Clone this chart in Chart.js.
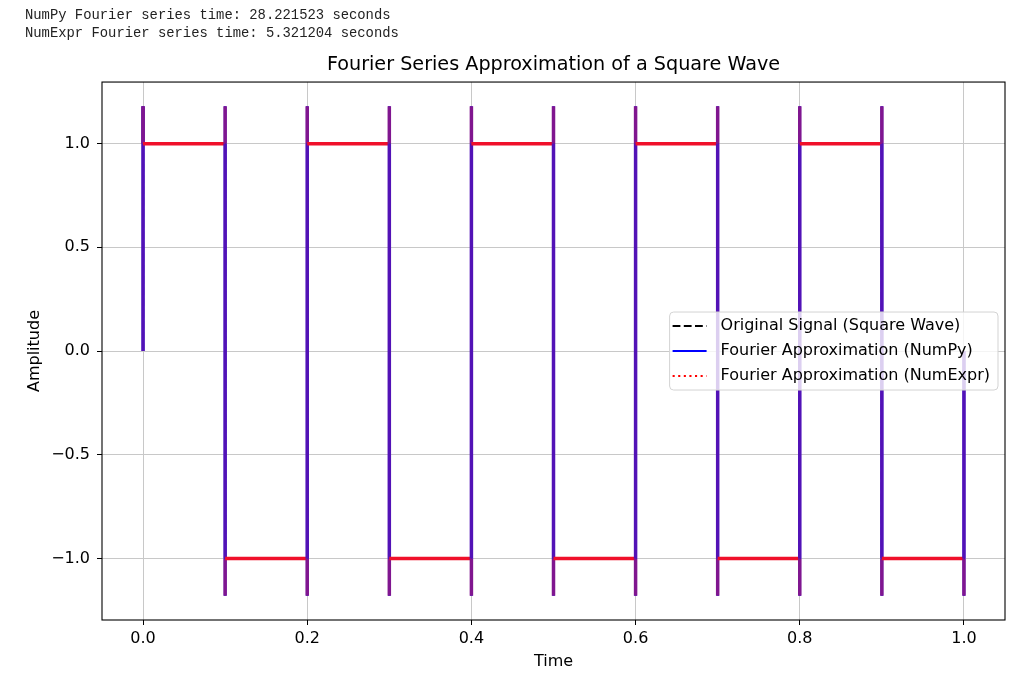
<!DOCTYPE html>
<html><head><meta charset="utf-8">
<script src="https://cdn.jsdelivr.net/npm/chart.js@4/dist/chart.umd.min.js"></script>
<style>
html,body{margin:0;padding:0;background:#fff;}
#wrap{position:relative;width:1024px;height:692px;overflow:hidden;background:#fff;}
#log{position:absolute;left:25px;top:6px;font-family:'Liberation Mono',monospace;font-size:13.85px;line-height:18.4px;color:#222;white-space:pre;z-index:2;}
canvas{position:absolute;left:0;top:0;}
</style></head><body>
<div id="wrap">
<canvas id="c" width="1024" height="692"></canvas>
<div id="log">NumPy Fourier series time: 28.221523 seconds
NumExpr Fourier series time: 5.321204 seconds</div>
</div>
<script>
// ---- data ----
const chartTitle = 'Fourier Series Approximation of a Square Wave';
const xAxisTitle = 'Time';
const yAxisTitle = 'Amplitude';
const seriesLabels = ['Original Signal (Square Wave)', 'Fourier Approximation (NumPy)', 'Fourier Approximation (NumExpr)'];

const xTicks = [0.0, 0.2, 0.4, 0.6, 0.8, 1.0];
const xTickLabels = ['0.0', '0.2', '0.4', '0.6', '0.8', '1.0'];
const yTicks = [-1.0, -0.5, 0.0, 0.5, 1.0];
const yTickLabels = ['\u22121.0', '\u22120.5', '0.0', '0.5', '1.0'];

// original square wave (vertices)
const squareTime = [0.0, 0.0, 0.1, 0.1, 0.2, 0.2, 0.3, 0.3, 0.4, 0.4, 0.5, 0.5, 0.6, 0.6, 0.7, 0.7, 0.8, 0.8, 0.9, 0.9, 1.0];
const squareAmp  = [0, 1, 1, -1, -1, 1, 1, -1, -1, 1, 1, -1, -1, 1, 1, -1, -1, 1, 1, -1, -1];

// Fourier approximation vertices (flat levels with Gibbs overshoot at each jump)
const fourierTime = [
  0.0, 0.0, 0.0,
  0.1, 0.1, 0.1, 0.1, 0.1, 0.1,
  0.2, 0.2, 0.2, 0.2, 0.2, 0.2,
  0.3, 0.3, 0.3, 0.3, 0.3, 0.3,
  0.4, 0.4, 0.4, 0.4, 0.4, 0.4,
  0.5, 0.5, 0.5, 0.5, 0.5, 0.5,
  0.6, 0.6, 0.6, 0.6, 0.6, 0.6,
  0.7, 0.7, 0.7, 0.7, 0.7, 0.7,
  0.8, 0.8, 0.8, 0.8, 0.8, 0.8,
  0.9, 0.9, 0.9, 0.9, 0.9, 0.9,
  1.0, 1.0, 1.0, 1.0
];
const fourierNumPy = [
  0.0, 1.18, 1.0,
  1.0, 1.18, 1.0, -1.0, -1.18, -1.0,
  -1.0, -1.18, -1.0, 1.0, 1.18, 1.0,
  1.0, 1.18, 1.0, -1.0, -1.18, -1.0,
  -1.0, -1.18, -1.0, 1.0, 1.18, 1.0,
  1.0, 1.18, 1.0, -1.0, -1.18, -1.0,
  -1.0, -1.18, -1.0, 1.0, 1.18, 1.0,
  1.0, 1.18, 1.0, -1.0, -1.18, -1.0,
  -1.0, -1.18, -1.0, 1.0, 1.18, 1.0,
  1.0, 1.18, 1.0, -1.0, -1.18, -1.0,
  -1.0, -1.18, -1.0, 0.0
];
const fourierNumExpr = [
  0.0, 1.18, 1.0,
  1.0, 1.18, 1.0, -1.0, -1.18, -1.0,
  -1.0, -1.18, -1.0, 1.0, 1.18, 1.0,
  1.0, 1.18, 1.0, -1.0, -1.18, -1.0,
  -1.0, -1.18, -1.0, 1.0, 1.18, 1.0,
  1.0, 1.18, 1.0, -1.0, -1.18, -1.0,
  -1.0, -1.18, -1.0, 1.0, 1.18, 1.0,
  1.0, 1.18, 1.0, -1.0, -1.18, -1.0,
  -1.0, -1.18, -1.0, 1.0, 1.18, 1.0,
  1.0, 1.18, 1.0, -1.0, -1.18, -1.0,
  -1.0, -1.18, -1.0, 0.0
];

// ---- build ----
const pts = (xs, ys) => xs.map((x, i) => ({x: x, y: ys[i]}));
const FONT = "'DejaVu Sans', 'Liberation Sans', sans-serif";

const legendStyles = [
  {color: '#000000', width: 2.1, dash: [7.8, 3.4]},
  {color: '#0000ff', width: 2.1, dash: []},
  {color: '#ff0000', width: 2.1, dash: [2.1, 3.5]}
];

const frameAndLegend = {
  id: 'frameAndLegend',
  afterDatasetsDraw(chart) {
    const {ctx, chartArea: a} = chart;
    ctx.save();
    ctx.strokeStyle = '#000';
    ctx.lineWidth = 1.1;
    ctx.strokeRect(a.left, a.top, a.right - a.left, a.bottom - a.top);
    ctx.restore();
  },
  afterDraw(chart) {
    const {ctx, chartArea: a} = chart;
    ctx.save();
    ctx.font = '16px ' + FONT;
    let maxW = 0;
    seriesLabels.forEach(t => { maxW = Math.max(maxW, ctx.measureText(t).width); });
    const w = 51 + maxW + 8;
    const h = 78;
    const x = a.right - 7 - w;
    const y = (a.top + a.bottom) / 2 - h / 2;
    ctx.beginPath();
    if (ctx.roundRect) ctx.roundRect(x, y, w, h, 4); else ctx.rect(x, y, w, h);
    ctx.fillStyle = 'rgba(255,255,255,0.8)';
    ctx.fill();
    ctx.strokeStyle = '#d3d3d3';
    ctx.lineWidth = 1;
    ctx.stroke();
    seriesLabels.forEach((t, i) => {
      const cy = y + 14 + i * 25;
      const s = legendStyles[i];
      ctx.beginPath();
      ctx.setLineDash(s.dash);
      ctx.strokeStyle = s.color;
      ctx.lineWidth = s.width;
      ctx.moveTo(x + 3, cy);
      ctx.lineTo(x + 37, cy);
      ctx.stroke();
      ctx.setLineDash([]);
      ctx.fillStyle = '#000';
      ctx.textBaseline = 'middle';
      ctx.textAlign = 'left';
      ctx.fillText(t, x + 51, cy);
    });
    ctx.restore();
  }
};

const vertical = c => c.p0.parsed.x === c.p1.parsed.x;
const overshoot = c => Math.abs(c.p0.parsed.y) >= 0.999 && Math.abs(c.p1.parsed.y) >= 0.999 && c.p0.parsed.y * c.p1.parsed.y > 0;

new Chart(document.getElementById('c'), {
  type: 'scatter',
  data: {
    datasets: [
      {
        label: seriesLabels[0], data: pts(squareTime, squareAmp), showLine: true, order: 3,
        borderColor: '#000', borderWidth: 2.1, borderDash: [7.8, 3.4], pointRadius: 0, pointHoverRadius: 0
      },
      {
        label: seriesLabels[1], data: pts(fourierTime, fourierNumPy), showLine: true, order: 2,
        borderColor: '#0000ff', borderWidth: 2.6, pointRadius: 0, pointHoverRadius: 0
      },
      {
        label: seriesLabels[2], data: pts(fourierTime, fourierNumExpr), showLine: true, order: 1,
        borderColor: '#f0102a', borderWidth: 3.5, pointRadius: 0, pointHoverRadius: 0,
        segment: {
          borderColor: c => vertical(c) ? (overshoot(c) ? '#80168f' : '#5212b6') : '#f0102a'
        }
      }
    ]
  },
  options: {
    responsive: false,
    animation: false,
    devicePixelRatio: 1,
    events: [],
    layout: {padding: {left: 0, right: 19, top: 0, bottom: 0}},
    plugins: {
      legend: {display: false},
      tooltip: {enabled: false},
      title: {
        display: true, text: chartTitle, fullSize: false, color: '#000',
        font: {family: FONT, size: 19.2, weight: 'normal'},
        padding: {top: 53.5, bottom: 5.5}
      }
    },
    scales: {
      x: {
        type: 'linear', min: -0.05, max: 1.05,
        afterFit: s => { s.height = 72; },
        afterBuildTicks: s => { s.ticks = xTicks.map(v => ({value: v})); },
        ticks: {
          color: '#000', font: {family: FONT, size: 16}, padding: 4, maxRotation: 0,
          callback: (v) => { const i = xTicks.findIndex(t => Math.abs(t - v) < 1e-9); return i >= 0 ? xTickLabels[i] : ''; }
        },
        grid: {color: '#c8c8c8', lineWidth: 1, tickColor: '#000', tickLength: 5, tickWidth: 1},
        border: {display: false},
        title: {display: true, text: xAxisTitle, color: '#000', font: {family: FONT, size: 16}, padding: {top: 0, bottom: 20.4}}
      },
      y: {
        type: 'linear', min: -1.297, max: 1.297,
        afterFit: s => { s.width = 102; },
        afterBuildTicks: s => { s.ticks = yTicks.map(v => ({value: v})); },
        ticks: {
          color: '#000', font: {family: FONT, size: 16}, padding: 7,
          callback: (v) => { const i = yTicks.findIndex(t => Math.abs(t - v) < 1e-9); return i >= 0 ? yTickLabels[i] : ''; }
        },
        grid: {color: '#c8c8c8', lineWidth: 1, tickColor: '#000', tickLength: 5, tickWidth: 1},
        border: {display: false},
        title: {display: true, text: yAxisTitle, color: '#000', font: {family: FONT, size: 16}, padding: {top: 25.4, bottom: 0}}
      }
    }
  },
  plugins: [frameAndLegend]
});
</script>
</body></html>
